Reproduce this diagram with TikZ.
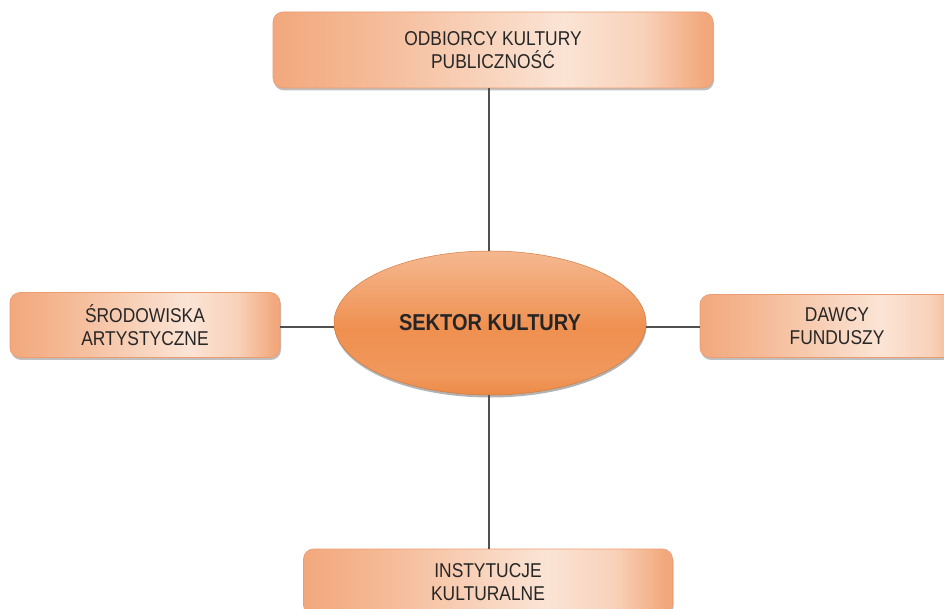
\documentclass[tikz,border=0pt]{standalone}
\usepackage{fontspec}
\setmainfont{Liberation Sans}[FakeStretch=0.87]
\usetikzlibrary{shapes.geometric,shadows}

\definecolor{boxdark}{RGB}{242,168,124}
\definecolor{boxlight}{RGB}{251,228,213}
\definecolor{boxedge}{RGB}{236,156,112}
\definecolor{elltop}{RGB}{245,184,144}
\definecolor{ellmid}{RGB}{239,144,80}
\definecolor{ellbot}{RGB}{236,138,70}
\definecolor{linkgray}{RGB}{80,80,80}

% orange edges fading to a pale centre-right
\pgfdeclarehorizontalshading{boxshade}{100bp}{%
  color(0bp)=(boxdark); color(25bp)=(boxdark);
  color(36bp)=(boxdark!70!boxlight);
  color(58bp)=(boxlight);
  color(67bp)=(boxlight!70!boxdark);
  color(74bp)=(boxdark); color(100bp)=(boxdark)}
% ellipse: lighter cap on top, deeper orange below
\pgfdeclareverticalshading{ellshade}{100bp}{%
  color(0bp)=(ellbot); color(25bp)=(ellbot);
  color(32bp)=(ellmid!80!elltop);
  color(48bp)=(ellmid);
  color(75bp)=(elltop); color(100bp)=(elltop)}

\tikzset{
  actor/.style={rectangle, rounded corners=10pt, shading=boxshade,
    draw=boxedge, line width=0.6pt, align=center, inner sep=0pt,
    font=\fontsize{20}{23}\selectfont, text=black!85,
    drop shadow={shadow xshift=1pt, shadow yshift=-2.5pt, opacity=0.25, fill=black}},
  core/.style={ellipse, shading=ellshade, draw=ellbot!90!black, line width=0.5pt,
    inner sep=0pt, font=\fontsize{23}{26}\selectfont\bfseries, text=black!85,
    drop shadow={shadow xshift=0.5pt, shadow yshift=-2.5pt, opacity=0.3, fill=black}},
  link/.style={draw=linkgray, line width=1.3pt}
}

\begin{document}
\begin{tikzpicture}[x=1pt,y=1pt]
\clip (0,0) rectangle (944,608);
\fill[white] (0,0) rectangle (944,608);

% x positions of the vertical links
\coordinate (cT) at (489,520);
\coordinate (cB) at (489,60);

\node[core, minimum width=312pt, minimum height=144pt] (sector) at (490,285) {SEKTOR KULTURY};

\node[actor, minimum width=440pt, minimum height=76pt] (public) at (493,558)
  {ODBIORCY KULTURY\\PUBLICZNOŚĆ};
\node[actor, minimum width=270pt, minimum height=65pt] (artists) at (145,283)
  {ŚRODOWISKA\\ARTYSTYCZNE};
\node[actor, minimum width=274pt, minimum height=63pt] (donors) at (837,282)
  {DAWCY\\FUNDUSZY};
\node[actor, minimum width=369pt, minimum height=66pt] (institutions) at (488,26)
  {INSTYTUCJE\\KULTURALNE};

\draw[link] (public.south -| cT) -- (sector.north -| cT);
\draw[link] (sector.south -| cB) -- (institutions.north -| cB);
\draw[link] (artists.east |- 0,281) -- (sector.west |- 0,281);
\draw[link] (sector.east |- 0,281) -- (donors.west |- 0,281);
\end{tikzpicture}
\end{document}
